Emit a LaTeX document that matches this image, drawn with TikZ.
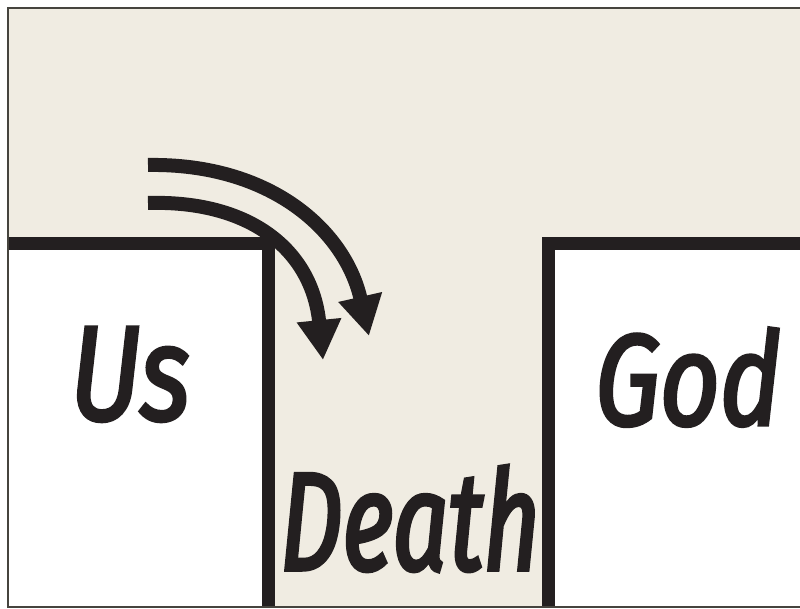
\documentclass[tikz,border=0pt]{standalone}
\usepackage{fontspec}
\usetikzlibrary{arrows.meta}
\newfontfamily\brushfont[FakeStretch=0.8,ItalicFeatures={FakeBold=2.5}]{Fira Sans}
\newfontfamily\narrowbrush[FakeStretch=0.7,ItalicFeatures={FakeBold=2.5}]{Fira Sans}
\definecolor{paper}{RGB}{240,236,226}
\definecolor{ink}{RGB}{35,31,32}
\definecolor{framegray}{RGB}{70,68,62}

\begin{document}
\begin{tikzpicture}[x=1pt,y=-1pt,>={Triangle[length=40pt,width=42pt]},
    word/.style 2 args={text=ink, anchor=base, inner sep=0pt, font=#1\itshape\fontsize{#2}{#2}\selectfont}]
    \useasboundingbox (0,0) rectangle (800,609);
    % Paper
    \fill[white] (0,0) rectangle (800,609);
    \fill[paper] (8,8) rectangle (800,607);
    % Ledges
    \fill[white] (8,244) rectangle (268,607);
    \fill[white] (548,244) rectangle (800,607);
    \draw[ink, line width=13pt] (8,244) -- (268,244) -- (268,607);
    \draw[ink, line width=13pt] (800,244) -- (548,244) -- (548,607);
    % Frame
    \draw[framegray, line width=1.5pt] (800,8) -- (8,8) -- (8,607) -- (800,607);

    % Labels
    \node[word={\brushfont}{135}] (us) at (130,420) {Us};
    \node[word={\brushfont}{130}] (god) at (688,425) {God};
    \node[word={\narrowbrush}{140}] (death) at (410,570) {Death};

    % Fall arrows
    \coordinate (outerstart) at (148,165);
    \coordinate (outerend) at (369,336);
    \coordinate (innerstart) at (148,203);
    \coordinate (innerend) at (323,360);
    \draw[->, ink, line width=14pt] (outerstart) .. controls (270,163) and (345,230) .. (outerend);
    \draw[->, ink, line width=14pt] (innerstart) .. controls (250,200) and (312,250) .. (innerend);
\end{tikzpicture}
\end{document}
